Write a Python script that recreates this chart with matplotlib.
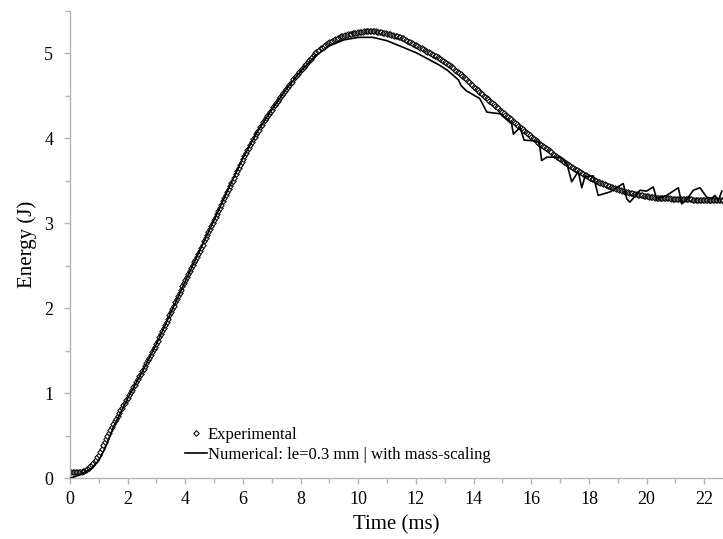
import numpy as np
import matplotlib
matplotlib.use("Agg")
import matplotlib.pyplot as plt
from matplotlib.ticker import MultipleLocator

plt.rcParams['font.family'] = ['Liberation Serif', 'DejaVu Serif']

# Experimental energy (J), sampled every 0.05 ms from t = 0 (one row per ms)
exp_t0, exp_dt = 0.0, 0.05
exp_energy = [
    0.07, 0.07, 0.07, 0.07, 0.07, 0.07, 0.07, 0.075, 0.08, 0.085, 0.09, 0.10, 0.11, 0.125, 0.14, 0.16, 0.18, 0.20, 0.22, 0.245,
    0.27, 0.31, 0.35, 0.39, 0.43, 0.465, 0.50, 0.535, 0.57, 0.605, 0.64, 0.67, 0.70, 0.735, 0.77, 0.80, 0.83, 0.86, 0.89, 0.92,
    0.95, 0.98, 1.01, 1.04, 1.07, 1.10, 1.13, 1.165, 1.20, 1.23, 1.26, 1.29, 1.32, 1.355, 1.39, 1.42, 1.45, 1.485, 1.52, 1.55,
    1.58, 1.62, 1.66, 1.695, 1.73, 1.77, 1.81, 1.845, 1.88, 1.92, 1.96, 1.995, 2.03, 2.07, 2.11, 2.145, 2.18, 2.22, 2.26, 2.295,
    2.33, 2.365, 2.40, 2.435, 2.47, 2.505, 2.54, 2.575, 2.61, 2.645, 2.68, 2.715, 2.75, 2.79, 2.83, 2.865, 2.90, 2.935, 2.97, 3.005,
    3.04, 3.075, 3.11, 3.145, 3.18, 3.22, 3.26, 3.295, 3.33, 3.365, 3.40, 3.435, 3.47, 3.505, 3.54, 3.58, 3.62, 3.655, 3.69, 3.725,
    3.76, 3.795, 3.83, 3.86, 3.89, 3.925, 3.96, 3.99, 4.02, 4.05, 4.08, 4.105, 4.13, 4.16, 4.19, 4.215, 4.24, 4.265, 4.29, 4.315,
    4.34, 4.365, 4.39, 4.415, 4.44, 4.465, 4.49, 4.515, 4.54, 4.56, 4.58, 4.605, 4.63, 4.65, 4.67, 4.695, 4.72, 4.74, 4.76, 4.78,
    4.80, 4.82, 4.84, 4.86, 4.88, 4.90, 4.92, 4.94, 4.96, 4.98, 5.00, 5.015, 5.03, 5.045, 5.06, 5.07, 5.08, 5.095, 5.11, 5.12,
    5.13, 5.14, 5.15, 5.16, 5.17, 5.175, 5.18, 5.19, 5.20, 5.205, 5.21, 5.215, 5.22, 5.225, 5.23, 5.235, 5.24, 5.24, 5.24, 5.245,
    5.25, 5.25, 5.25, 5.255, 5.26, 5.26, 5.26, 5.26, 5.26, 5.26, 5.26, 5.26, 5.26, 5.255, 5.25, 5.25, 5.25, 5.245, 5.24, 5.24,
    5.235, 5.23, 5.225, 5.22, 5.215, 5.21, 5.205, 5.20, 5.195, 5.19, 5.185, 5.18, 5.17, 5.16, 5.15, 5.14, 5.135, 5.125, 5.115, 5.105,
    5.095, 5.085, 5.077, 5.068, 5.06, 5.05, 5.04, 5.032, 5.023, 5.014, 5.005, 4.995, 4.985, 4.975, 4.965, 4.955, 4.944, 4.933, 4.922, 4.911,
    4.90, 4.888, 4.876, 4.863, 4.85, 4.837, 4.824, 4.811, 4.798, 4.784, 4.77, 4.755, 4.74, 4.725, 4.71, 4.694, 4.678, 4.662, 4.646, 4.628,
    4.61, 4.595, 4.58, 4.565, 4.55, 4.535, 4.52, 4.505, 4.49, 4.475, 4.46, 4.445, 4.43, 4.415, 4.40, 4.385, 4.37, 4.355, 4.34, 4.325,
    4.31, 4.295, 4.28, 4.267, 4.253, 4.238, 4.223, 4.209, 4.194, 4.18, 4.165, 4.15, 4.136, 4.122, 4.107, 4.092, 4.078, 4.063, 4.049, 4.035,
    4.02, 4.006, 3.993, 3.979, 3.966, 3.952, 3.939, 3.925, 3.912, 3.898, 3.885, 3.872, 3.86, 3.847, 3.835, 3.822, 3.81, 3.797, 3.785, 3.772,
    3.76, 3.748, 3.736, 3.725, 3.714, 3.702, 3.69, 3.679, 3.668, 3.656, 3.645, 3.634, 3.624, 3.614, 3.604, 3.594, 3.584, 3.574, 3.564, 3.555,
    3.545, 3.536, 3.527, 3.518, 3.509, 3.501, 3.493, 3.485, 3.478, 3.471, 3.465, 3.458, 3.451, 3.444, 3.437, 3.43, 3.424, 3.418, 3.412, 3.406,
    3.40, 3.395, 3.39, 3.385, 3.38, 3.375, 3.37, 3.365, 3.36, 3.357, 3.355, 3.351, 3.347, 3.343, 3.339, 3.335, 3.332, 3.329, 3.326, 3.323,
    3.32, 3.317, 3.314, 3.311, 3.308, 3.306, 3.304, 3.302, 3.301, 3.30, 3.30, 3.299, 3.298, 3.297, 3.296, 3.295, 3.294, 3.293, 3.292, 3.291,
    3.29, 3.29, 3.289, 3.288, 3.287, 3.286, 3.285, 3.285, 3.284, 3.283, 3.282, 3.282, 3.281, 3.281, 3.28, 3.28, 3.279, 3.279, 3.278, 3.278,
    3.277, 3.277, 3.276, 3.276, 3.275, 3.275, 3.275, 3.275, 3.274, 3.274, 3.274, 3.274, 3.273, 3.273,
]
exp_time = exp_t0 + exp_dt * np.arange(len(exp_energy))

# Numerical (le = 0.3 mm, with mass-scaling)
num_time = [
    0.0, 0.25, 0.5, 0.75, 1.0, 1.25, 1.5, 2.0, 2.5, 3.0, 3.5, 4.0, 4.5,
    5.0, 5.5, 6.0, 6.5, 7.0, 7.5, 8.0, 8.5, 9.0, 9.5, 10.0, 10.5, 11.0,
    11.5, 12.0, 12.5, 12.83, 13.1, 13.47, 13.57, 13.75, 14.21, 14.46,
    14.92, 15.32, 15.38, 15.61, 15.75, 16.2, 16.28, 16.36, 16.54, 17.0,
    17.23, 17.4, 17.63, 17.75, 17.86, 18.15, 18.32, 18.73, 19.19, 19.31,
    19.42, 19.77, 20.0, 20.23, 20.35, 20.7, 21.1, 21.22, 21.39, 21.62,
    21.85, 22.08, 22.25, 22.37, 22.49, 22.61,
]
num_energy = [
    0.00, 0.03, 0.07, 0.12, 0.21, 0.38, 0.60, 0.94, 1.25, 1.58, 1.95, 2.32, 2.68,
    3.04, 3.41, 3.77, 4.08, 4.34, 4.58, 4.79, 4.97, 5.09, 5.16, 5.19, 5.19, 5.15,
    5.08, 5.01, 4.92, 4.86, 4.80, 4.69, 4.62, 4.56, 4.47, 4.31,
    4.29, 4.17, 4.05, 4.13, 3.98, 3.97, 3.94, 3.74, 3.78, 3.78,
    3.71, 3.49, 3.61, 3.42, 3.55, 3.56, 3.33, 3.37, 3.47, 3.29,
    3.25, 3.39, 3.38, 3.43, 3.29, 3.33, 3.42, 3.23, 3.28, 3.39,
    3.42, 3.31, 3.29, 3.33, 3.27, 3.38,
]

x_major = list(range(0, 23, 2))
y_major = [0, 1, 2, 3, 4, 5]

fig = plt.figure(figsize=(7.23, 5.39), dpi=100)
ax = fig.add_axes([70 / 723, (539 - 478.3) / 539, 653 / 723, (478.3 - 11) / 539])

grey = '#b4b4b4'
ax.plot(exp_time, exp_energy, linestyle='none', marker='D', markersize=2.8,
        markerfacecolor='white', markeredgecolor='black', markeredgewidth=0.75,
        label='Experimental', zorder=2)
ax.plot(num_time, num_energy, color='black', linewidth=1.2,
        label='Numerical: le=0.3 mm | with mass-scaling', zorder=3)

ax.set_xlim(0, 653 / 28.83)
ax.set_ylim(0, 5.5)
ax.set_xticks(x_major)
ax.set_yticks(y_major)
ax.xaxis.set_minor_locator(MultipleLocator(1))
ax.yaxis.set_minor_locator(MultipleLocator(0.5))

for s in ['top', 'right']:
    ax.spines[s].set_visible(False)
for s in ['left', 'bottom']:
    ax.spines[s].set_color(grey)
    ax.spines[s].set_linewidth(1.0)

ax.tick_params(which='both', direction='out', color=grey, width=1.0,
               labelsize=13, labelcolor='black')
ax.tick_params(which='major', length=4)
ax.tick_params(which='minor', length=3.5)
ax.tick_params(axis='x', which='major', pad=5)
ax.tick_params(axis='y', which='major', pad=8)

ax.set_xlabel('Time (ms)', fontsize=15, labelpad=5)
ax.set_ylabel('Energy (J)', fontsize=15, labelpad=5)

ax.legend(loc='center left', bbox_to_anchor=((185 - 70) / 653, (478.3 - 445) / 467.3),
          frameon=False, fontsize=12, handlelength=1.3, handletextpad=0.05,
          labelspacing=0.25, borderpad=0, borderaxespad=0, markerscale=1.0)

fig.savefig('out.png', dpi=100)
